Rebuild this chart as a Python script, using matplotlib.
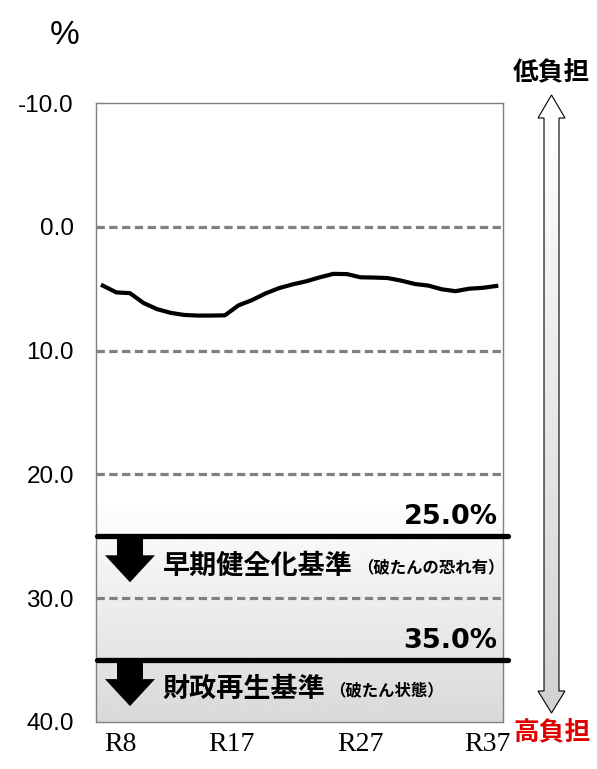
import numpy as np
import matplotlib.pyplot as plt
import matplotlib.transforms as mtransforms
from matplotlib.patches import Polygon

plt.rcParams['font.family'] = ['Noto Sans CJK JP', 'DejaVu Sans']

# 将来負担比率の推移（R8〜R37）
years = ['R%d' % y for y in range(8, 38)]
ratio = [4.75, 5.3, 5.36, 6.15, 6.65, 6.95, 7.12, 7.17, 7.17, 7.15,
         6.35, 5.92, 5.38, 4.95, 4.65, 4.4, 4.08, 3.8, 3.82, 4.08,
         4.1, 4.14, 4.35, 4.62, 4.75, 5.05, 5.2, 5.0, 4.93, 4.78]
tick_labels = ['R8', 'R17', 'R27', 'R37']
y_ticks = [-10, 0, 10, 20, 30, 40]
grid_vals = [0, 10, 20, 30]
thresholds = [25.0, 35.0]
thr_names = ['早期健全化基準', '財政再生基準']
thr_notes = ['（破たんの恐れ有）', '（破たん状態）']

W, H = 597, 769
fig = plt.figure(figsize=(W / 100, H / 100), dpi=100)
ax = fig.add_axes([96 / W, 1 - 722 / H, 407 / W, 619 / H])

x = np.arange(len(years))
xmin, xmax = -0.5, len(years) - 0.5
ymin, ymax = -10, 40

# background gradient (white -> light gray toward the bottom)
v = np.linspace(ymin, ymax, 300)
shade = np.where(v < 22, 1.0, 1.0 - (v - 22) / (ymax - 22) * 0.15)
ax.imshow(shade[:, None], extent=(xmin, xmax, ymax, ymin), cmap='gray',
          vmin=0, vmax=1, aspect='auto', origin='upper', zorder=0)

for g in grid_vals:
    ax.axhline(g, color='#808080', lw=2.3, dashes=(2.6, 1.4), zorder=1)

ax.plot(x, ratio, color='black', lw=3.0, zorder=3)

# px -> data conversion
dxp = (xmax - xmin) / 407
dyp = (ymax - ymin) / 619

for thr, name, note in zip(thresholds, thr_names, thr_notes):
    ax.plot([xmin + 1 * dxp, xmax + 5 * dxp], [thr, thr], color='black',
            lw=3.8, solid_capstyle='round', clip_on=False, zorder=4)
    ax.annotate('%.1f%%' % thr, xy=(1, thr), xycoords=ax.get_yaxis_transform(),
                xytext=(-4, 14), textcoords='offset points', ha='right',
                va='center', fontsize=19.5, fontweight='bold',
                family='DejaVu Sans')
    # down arrow
    cx = xmin + 34 * dxp
    top = thr + 1 * dyp
    mid = thr + 19 * dyp
    tip = thr + 46 * dyp
    sw, hw = 13 * dxp, 25 * dxp
    arr = Polygon([(cx - sw, top), (cx + sw, top), (cx + sw, mid), (cx + hw, mid),
                   (cx, tip), (cx - hw, mid), (cx - sw, mid)],
                  closed=True, facecolor='black', edgecolor='none', zorder=4)
    ax.add_patch(arr)
    t1 = ax.annotate(name, xy=(0, thr), xycoords=ax.get_yaxis_transform(),
                     xytext=(48, -21), textcoords='offset points', ha='left',
                     va='center', fontsize=19.5, fontweight='bold')
    ax.annotate(note, xy=(1, 0.5), xycoords=t1, xytext=(3, -1),
                textcoords='offset points', ha='left', va='center',
                fontsize=11.8, fontweight='bold')

ax.set_xlim(xmin, xmax)
ax.set_ylim(ymax, ymin)
ax.set_yticks(y_ticks)
ax.set_yticklabels(['%.1f' % t for t in y_ticks], family='Liberation Sans',
                   fontsize=17.5)
ax.tick_params(axis='y', direction='in', length=6, color='#808080', pad=16)
ax.set_xticks([0, 9, 19, 29])
ax.set_xticklabels(tick_labels, family='Liberation Serif', fontsize=20)
ax.tick_params(axis='x', length=0, pad=7)
# nudge the year labels to where they sit in the original
for lab, dx in zip(ax.get_xticklabels(), [18, 7, 0, -9]):
    lab.set_transform(lab.get_transform() +
                      mtransforms.ScaledTranslation(dx / 100, 0, fig.dpi_scale_trans))
for s in ax.spines.values():
    s.set_color('#808080')
    s.set_linewidth(1)

fig.text(65 / W, 1 - 36 / H, '%', ha='center', va='center', fontsize=24,
         family='Liberation Sans')

# double-headed arrow on the right (low burden <-> high burden)
ov = fig.add_axes([0, 0, 1, 1], zorder=5)
ov.set_axis_off()
ov.patch.set_alpha(0)
pts = [(551.5, 95), (565, 118), (559, 118), (559, 691), (565, 691),
       (551.5, 713), (538, 691), (544, 691), (544, 118), (538, 118)]
darr = Polygon(pts, closed=True, facecolor='none', edgecolor='black', lw=0.8)
ov.add_patch(darr)
grad = np.linspace(1.0, 0.82, 200)[:, None]
im = ov.imshow(grad, extent=(538, 565, 713, 95), cmap='gray', vmin=0, vmax=1,
               aspect='auto', origin='upper')
im.set_clip_path(darr)
ov.set_xlim(0, W)
ov.set_ylim(H, 0)

fig.text(551 / W, 1 - 72 / H, '低負担', ha='center', va='center',
         fontsize=18.5, fontweight='bold', color='black')
fig.text(552 / W, 1 - 732 / H, '高負担', ha='center', va='center',
         fontsize=18.5, fontweight='bold', color='#e00000')

fig.savefig('out.png', dpi=100)
